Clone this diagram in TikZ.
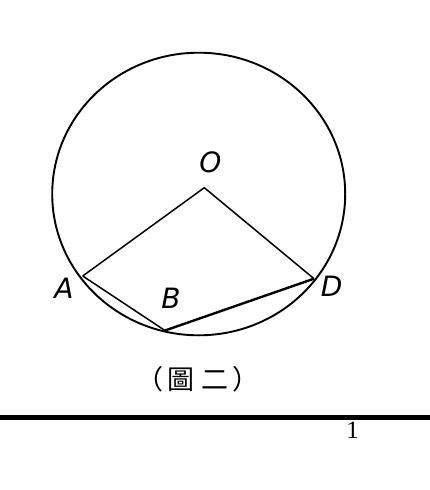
\documentclass[tikz,border=0pt]{standalone}
\usepackage{fontspec}
\setsansfont{DejaVu Sans}
\newfontfamily\cjk{Noto Sans CJK TC}
\newfontfamily\pagefont{Liberation Serif}
\usetikzlibrary{calc}

\begin{document}
\begin{tikzpicture}[x=1pt,y=-1pt]
\useasboundingbox (0,0) rectangle (430,490);
\tikzset{ptlabel/.style={font=\fontsize{28}{28}\selectfont\sffamily\itshape,inner sep=0pt}}
\coordinate (centre) at (198.7,194);
\coordinate (O) at (204.3,187.7);
\coordinate (A) at (82.7,276);
\coordinate (B) at (165,330.5);
\coordinate (D) at (314,278.7);
\draw[line width=1.9pt] (centre) ellipse [x radius=146.5, y radius=141.3];
\draw[line width=1.5pt,line join=miter] (A) -- (O) -- (D);
\draw[line width=1.5pt] (A) -- (B);
\draw[line width=2.4pt] (B) -- (D);
\node[ptlabel] (labO) at (210.5,162.7) {O};
\node[ptlabel] (labA) at (64,288.5) {A};
\node[ptlabel] (labB) at (171,298) {B};
\node[ptlabel] (labD) at (331.7,286) {D};
\node[font=\fontsize{27}{27}\selectfont\cjk,inner sep=0pt] (caption) at (198,379) {（\kern4pt 圖\kern7pt 二\kern4pt ）};
\coordinate (ruleL) at (0,417.5);
\coordinate (ruleR) at (430,417.5);
\draw[line width=4.5pt] (ruleL) -- (ruleR);
\node[font=\fontsize{25}{25}\selectfont\pagefont,inner sep=0pt] (pagenum) at (352.5,430) {1};
\end{tikzpicture}
\end{document}
